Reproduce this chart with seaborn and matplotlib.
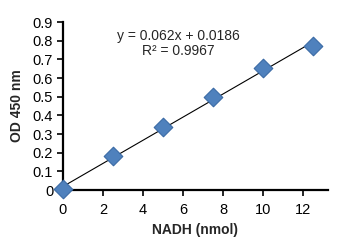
import matplotlib
matplotlib.use("Agg")
import matplotlib.pyplot as plt
import seaborn as sns
import numpy as np
import pandas as pd

nadh = [0, 2.5, 5, 7.5, 10, 12.5]
od450 = [0.005, 0.183, 0.34, 0.50, 0.655, 0.773]
slope = 0.062
intercept = 0.0186
eq_text = "y = 0.062x + 0.0186"
r2_text = "R² = 0.9967"
xticks = [0, 2, 4, 6, 8, 10, 12]
yticks = [0, 0.1, 0.2, 0.3, 0.4, 0.5, 0.6, 0.7, 0.8, 0.9]

sns.set_style("ticks")
plt.rcParams['font.family'] = ['Liberation Sans', 'DejaVu Sans']

fig = plt.figure(figsize=(3.42, 2.43), dpi=100)
ax = fig.add_axes([0.184, 0.218, 0.775, 0.691])

df = pd.DataFrame({"x": nadh, "y": od450})
fit = pd.DataFrame({"x": [nadh[0], nadh[-1]],
                    "y": [slope * nadh[0] + intercept, slope * nadh[-1] + intercept]})
sns.lineplot(data=fit, x="x", y="y", ax=ax, color="black", linewidth=0.8, zorder=2)
sns.scatterplot(data=df, x="x", y="y", ax=ax, marker="D", s=90, color="#4F81BD",
                edgecolor="#3A6AA5", linewidth=0.8, zorder=3, clip_on=False)

ax.set_xlim(0, 13.25)
ax.set_ylim(0, 0.9)
ax.set_xticks(xticks)
ax.set_xticklabels([str(t) for t in xticks])
ax.set_yticks(yticks)
ax.set_yticklabels(["0"] + [f"{t:.1f}" for t in yticks[1:]])
ax.tick_params(axis='both', labelsize=10.5, length=4, width=1.2, colors="black", pad=3)
ax.tick_params(axis='x', pad=5)
for s in ["left", "bottom"]:
    ax.spines[s].set_linewidth(1.6)
    ax.spines[s].set_color("black")
sns.despine(ax=ax)
ax.set_xlabel("NADH (nmol)", fontsize=10, fontweight="bold", labelpad=5)
ax.set_ylabel("OD 450 nm", fontsize=10, fontweight="bold", labelpad=6)

ax.text(0.434, 0.92, eq_text, transform=ax.transAxes, ha="center", va="center", fontsize=10)
ax.text(0.434, 0.825, r2_text, transform=ax.transAxes, ha="center", va="center", fontsize=10)

fig.savefig("out.png", dpi=100)
